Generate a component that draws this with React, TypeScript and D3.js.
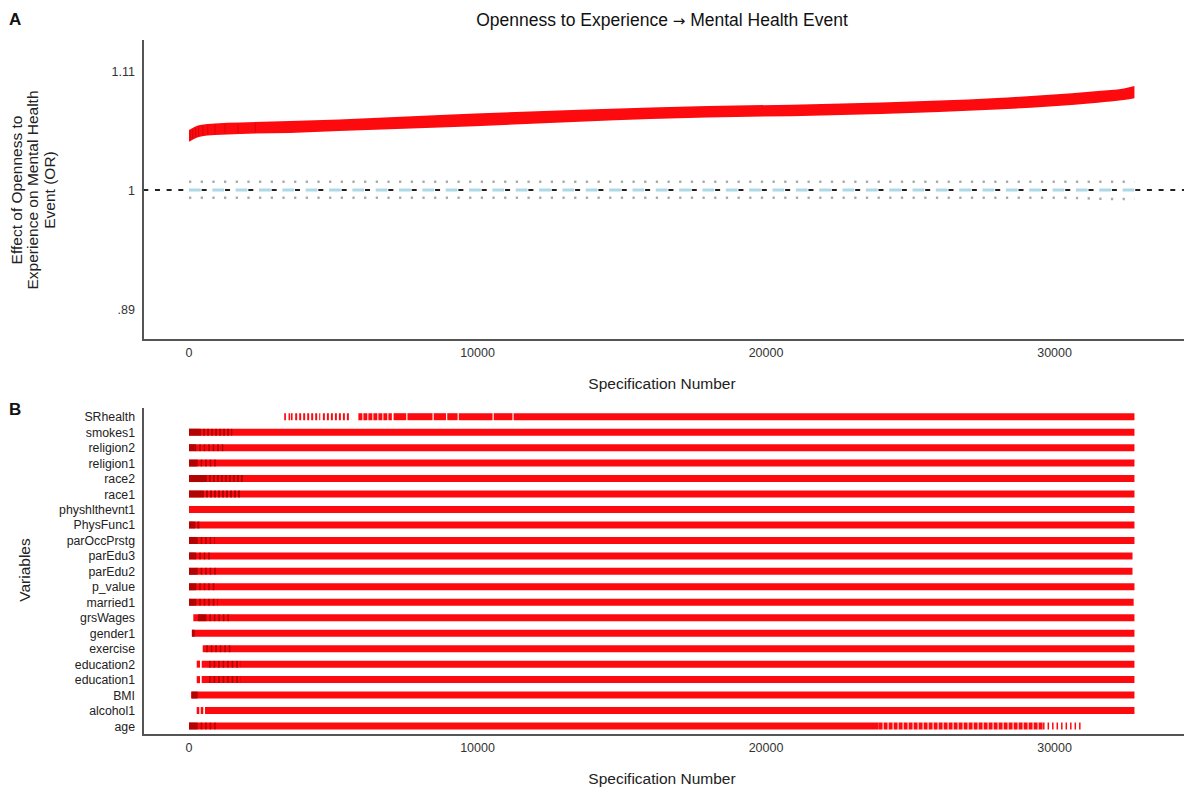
import React from "react";
import * as d3 from "d3";

// ---------- DATA ----------
const titleLeft = "Openness to Experience ";
const titleArrow = "\u2192";
const titleRight = " Mental Health Event";
const xTicks = [0, 10000, 20000, 30000];
const yTicks = [0.89, 1, 1.11];
const yTickLabels = [".89", "1", "1.11"];

// Specification curve band (OR, lower/upper)
const bandSpecs = [0, 380, 900, 1770, 3500, 5200, 8700, 16000, 24000, 28000, 29700, 31500, 32400, 32767];
const bandUpper = [1.0555, 1.0601, 1.0615, 1.0624, 1.0638, 1.0652, 1.0693, 1.0763, 1.0809, 1.085, 1.0878, 1.0915, 1.0938, 1.0961];
const bandLower = [1.0446, 1.0493, 1.0508, 1.0518, 1.0527, 1.0545, 1.0578, 1.0656, 1.0703, 1.0744, 1.077, 1.0807, 1.0832, 1.0848];
// darker overlapping specifications inside the band near the start
const bandDarkSpecs = [40, 130, 230, 330, 480, 650, 900, 1250, 1700, 2300];

// Null distribution
const nullSpecs = [0, 30500, 31700, 32768];
const nullMedian = [1, 1, 1, 1];
const nullUpper = [1.0077, 1.0077, 1.0077, 1.0077];
const nullLower = [0.9929, 0.9929, 0.9918, 0.9916];

// Panel B
const variables = [
  "SRhealth", "smokes1", "religion2", "religion1", "race2", "race1", "physhlthevnt1",
  "PhysFunc1", "parOccPrstg", "parEdu3", "parEdu2", "p_value", "married1", "grsWages",
  "gender1", "exercise", "education2", "education1", "BMI", "alcohol1", "age",
];

// [variable, startSpec, endSpec, density]  s = solid, d = dense, m = medium, l = sparse
const inclusionSegments: [string, number, number, string][] = [
  ["SRhealth", 3300, 3360, "s"], ["SRhealth", 3450, 3500, "s"], ["SRhealth", 3530, 3590, "s"],
  ["SRhealth", 3680, 4550, "m"], ["SRhealth", 4640, 5560, "m"], ["SRhealth", 5870, 7030, "d"],
  ["SRhealth", 7090, 7530, "s"], ["SRhealth", 7570, 8440, "s"], ["SRhealth", 8480, 8910, "s"],
  ["SRhealth", 8950, 9310, "s"], ["SRhealth", 9350, 10520, "s"], ["SRhealth", 10560, 11210, "s"],
  ["SRhealth", 11250, 32768, "s"],
  ["smokes1", 0, 32768, "s"],
  ["religion2", 0, 32768, "s"],
  ["religion1", 0, 32768, "s"],
  ["race2", 0, 32768, "s"],
  ["race1", 0, 32768, "s"],
  ["physhlthevnt1", 0, 32768, "s"],
  ["PhysFunc1", 0, 32768, "s"],
  ["parOccPrstg", 0, 32768, "s"],
  ["parEdu3", 0, 32700, "s"],
  ["parEdu2", 0, 32700, "s"],
  ["p_value", 0, 32768, "s"],
  ["married1", 0, 32740, "s"],
  ["grsWages", 150, 32768, "s"],
  ["gender1", 100, 32768, "s"],
  ["exercise", 475, 32768, "s"],
  ["education2", 267, 381, "s"], ["education2", 440, 32768, "s"],
  ["education1", 267, 381, "s"], ["education1", 440, 32768, "s"],
  ["BMI", 70, 32768, "s"],
  ["alcohol1", 267, 357, "s"], ["alcohol1", 405, 495, "s"], ["alcohol1", 555, 32768, "s"],
  ["age", 0, 23900, "s"], ["age", 23900, 29600, "d"], ["age", 29600, 30960, "l"],
];

// darker (overlapping) specifications near the start
const darkSegments: [string, number, number, string][] = [
  ["smokes1", 0, 350, "s"], ["smokes1", 350, 1500, "m"],
  ["religion2", 0, 200, "s"], ["religion2", 200, 1200, "l"],
  ["religion1", 0, 250, "s"], ["religion1", 250, 1000, "l"],
  ["race2", 0, 550, "s"], ["race2", 550, 1900, "m"],
  ["race1", 0, 450, "s"], ["race1", 450, 1800, "m"],
  ["PhysFunc1", 0, 150, "s"], ["PhysFunc1", 150, 400, "m"],
  ["parOccPrstg", 0, 250, "s"], ["parOccPrstg", 250, 900, "l"],
  ["parEdu3", 0, 200, "s"], ["parEdu3", 200, 800, "l"],
  ["parEdu2", 0, 250, "s"], ["parEdu2", 250, 1000, "l"],
  ["p_value", 0, 200, "s"], ["p_value", 200, 900, "l"],
  ["married1", 0, 200, "s"], ["married1", 200, 1000, "l"],
  ["grsWages", 310, 550, "s"], ["grsWages", 550, 1400, "l"],
  ["gender1", 100, 200, "s"],
  ["exercise", 600, 1500, "l"],
  ["education2", 700, 1800, "l"],
  ["education1", 700, 1800, "l"],
  ["BMI", 100, 300, "s"],
  ["age", 0, 250, "s"], ["age", 250, 1000, "l"],
];

// ---------- STYLE ----------
const FONT = "'Liberation Sans', Arial, Helvetica, sans-serif";
const RED = "#fd0a0e";
const DARK = "#8e0000";
const AXIS = "#555";
const dashFor: Record<string, string | undefined> = { s: undefined, d: "4 1", m: "2 2", l: "1.5 3" };

export default function App() {
  const W = 1184, H = 793;
  const axisLeft = 143, axisRight = 1184;
  const x = d3.scaleLinear().domain([0, 30000]).range([189, 1054.6]);
  const yA = d3.scaleLinear().domain([0.89, 1.11]).range([309, 71]);
  const yB = d3.scalePoint<string>().domain(variables).range([416.7, 726]);

  const bandData = bandSpecs.map((s, i) => ({ s, lo: bandLower[i], hi: bandUpper[i] }));
  const area = d3.area<{ s: number; lo: number; hi: number }>()
    .x((d) => x(d.s)).y0((d) => yA(d.lo)).y1((d) => yA(d.hi)).curve(d3.curveMonotoneX);
  const lo = d3.scaleLinear().domain(bandSpecs).range(bandLower);
  const hi = d3.scaleLinear().domain(bandSpecs).range(bandUpper);
  const mkLine = (vals: number[]) =>
    d3.line<number>().x((_, i) => x(nullSpecs[i])).y((v) => yA(v))(vals) || "";

  const axisAYBottom = 340;
  const axisBYBottom = 735;

  return (
    <div style={{ position: "absolute", left: 0, top: 0 }}>
      <svg width={W} height={H} style={{ display: "block", background: "#fff", fontFamily: FONT }}>
        {/* Panel labels */}
        <text x={9} y={25} fontSize={17} fontWeight="bold" fill="#111">A</text>
        <text x={9} y={415} fontSize={17} fontWeight="bold" fill="#111">B</text>

        {/* Title */}
        <text x={662} y={26} fontSize={17.5} textAnchor="middle" fill="#111">
          {titleLeft}
          <tspan fontFamily="'DejaVu Sans', sans-serif" fontSize={15}>{titleArrow}</tspan>
          {titleRight}
        </text>

        {/* ---------- Panel A ---------- */}
        <path d={area(bandData) || ""} fill={RED} />
        {bandDarkSpecs.map((s) => (
          <line key={"bd" + s} x1={x(s)} x2={x(s)} y1={yA(lo(s)) - 1} y2={yA(hi(s)) + 1}
            stroke={DARK} strokeOpacity={0.35} strokeWidth={1} />
        ))}

        {/* reference line at OR=1 */}
        <line x1={axisLeft + 0.3} x2={axisRight} y1={yA(1)} y2={yA(1)} stroke="#222" strokeWidth={2} strokeDasharray="5 6.67" />
        <path d={mkLine(nullMedian)} fill="none" stroke="#add8e6" strokeWidth={3} strokeDasharray="11.67 11.67" />
        <path d={mkLine(nullUpper)} fill="none" stroke="#aaa" strokeWidth={2.5} strokeDasharray="2.3 9.37" />
        <path d={mkLine(nullLower)} fill="none" stroke="#aaa" strokeWidth={2.5} strokeDasharray="2.3 9.37" />

        {/* axes */}
        <line x1={axisLeft} x2={axisLeft} y1={40} y2={axisAYBottom} stroke={AXIS} strokeWidth={2} />
        <line x1={axisLeft - 1} x2={axisRight} y1={axisAYBottom} y2={axisAYBottom} stroke={AXIS} strokeWidth={2} />
        {yTicks.map((t, i) => (
          <text key={t} x={135} y={yA(t) + 4.5} fontSize={12.5} textAnchor="end" fill="#333">{yTickLabels[i]}</text>
        ))}
        {xTicks.map((t) => (
          <text key={"a" + t} x={x(t)} y={axisAYBottom + 17} fontSize={12.5} textAnchor="middle" fill="#333">{t}</text>
        ))}
        <text x={662} y={389} fontSize={15.5} textAnchor="middle" fill="#222">Specification Number</text>
        {["Effect of Openness to", "Experience on Mental Health", "Event (OR)"].map((s, i) => (
          <text key={s} transform={`translate(${21.5 + i * 16.5},190) rotate(-90)`} fontSize={15.5} textAnchor="middle" fill="#222">{s}</text>
        ))}

        {/* ---------- Panel B ---------- */}
        {inclusionSegments.map(([v, a, b, k], i) => (
          <line key={"i" + i} x1={x(a)} x2={x(b)} y1={yB(v)} y2={yB(v)} stroke={RED} strokeWidth={7}
            strokeDasharray={dashFor[k]} />
        ))}
        {darkSegments.map(([v, a, b, k], i) => (
          <line key={"dk" + i} x1={x(a)} x2={x(b)} y1={yB(v)} y2={yB(v)} stroke={DARK} strokeOpacity={0.7}
            strokeWidth={7} strokeDasharray={dashFor[k]} />
        ))}
        <line x1={axisLeft} x2={axisLeft} y1={408} y2={axisBYBottom} stroke={AXIS} strokeWidth={2} />
        <line x1={axisLeft - 1} x2={axisRight} y1={axisBYBottom} y2={axisBYBottom} stroke={AXIS} strokeWidth={2} />
        {variables.map((v) => (
          <text key={v} x={135} y={(yB(v) || 0) + 4.5} fontSize={12.3} textAnchor="end" fill="#222">{v}</text>
        ))}
        {xTicks.map((t) => (
          <text key={"b" + t} x={x(t)} y={axisBYBottom + 17} fontSize={12.5} textAnchor="middle" fill="#333">{t}</text>
        ))}
        <text x={662} y={784} fontSize={15.5} textAnchor="middle" fill="#222">Specification Number</text>
        <text transform="translate(30,570) rotate(-90)" fontSize={15.5} textAnchor="middle" fill="#222">Variables</text>
      </svg>
    </div>
  );
}
